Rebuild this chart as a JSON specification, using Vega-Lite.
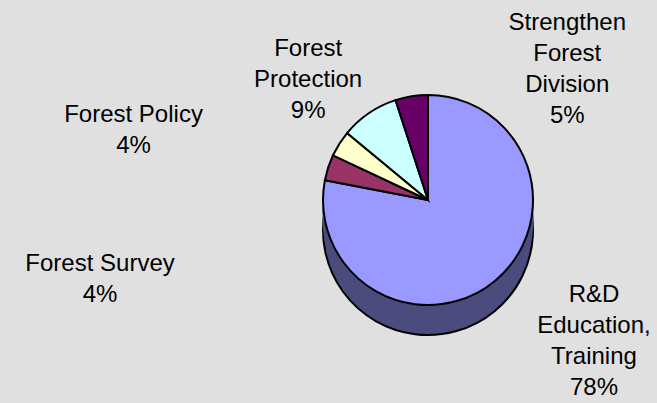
{
  "$schema": "https://vega.github.io/schema/vega-lite/v6.json",
  "width": 456,
  "height": 400,
  "autosize": "none",
  "padding": {"left": 200, "top": 0, "right": 1, "bottom": 3},
  "background": "#E0E0E0",
  "config": {"view": {"stroke": null}},
  "data": {
    "values": [
      {"category": "R&D Education, Training", "label": "R&D\nEducation,\nTraining\n78%", "value": 78, "order": 1},
      {"category": "Forest Survey", "label": "Forest Survey\n4%", "value": 4, "order": 2},
      {"category": "Forest Policy", "label": "Forest Policy\n4%", "value": 4, "order": 3},
      {"category": "Forest Protection", "label": "Forest\nProtection\n9%", "value": 9, "order": 4},
      {"category": "Strengthen Forest Division", "label": "Strengthen\nForest\nDivision\n5%", "value": 5, "order": 5}
    ]
  },
  "encoding": {
    "theta": {"field": "value", "type": "quantitative", "stack": true},
    "order": {"field": "order", "type": "quantitative"}
  },
  "layer": [
    {"mark": {"type": "arc", "radius": 105, "yOffset": 30, "fill": "#4B4B7E", "stroke": "#000000", "strokeWidth": 2}},
    {"mark": {"type": "arc", "radius": 105, "yOffset": 20, "fill": "#4B4B7E", "stroke": "#4B4B7E", "strokeWidth": 1}},
    {"mark": {"type": "arc", "radius": 105, "yOffset": 10, "fill": "#4B4B7E", "stroke": "#4B4B7E", "strokeWidth": 1}},
    {
      "mark": {"type": "arc", "radius": 105, "stroke": "#000000", "strokeWidth": 2},
      "encoding": {
        "color": {
          "field": "category",
          "type": "nominal",
          "scale": {
            "domain": ["R&D Education, Training", "Forest Survey", "Forest Policy", "Forest Protection", "Strengthen Forest Division"],
            "range": ["#9999FF", "#993366", "#FFFFCC", "#CCFFFF", "#660066"]
          },
          "legend": null
        }
      }
    },
    {
      "mark": {"type": "text", "radius": 218, "dx": 27, "dy": -73, "font": "Liberation Sans", "fontSize": 24, "lineBreak": "\n", "lineHeight": 31, "align": "center", "baseline": "middle", "color": "#000000"},
      "encoding": {"text": {"condition": {"test": "datum.order === 1", "field": "label", "type": "nominal"}, "value": ""}}
    },
    {
      "mark": {"type": "text", "radius": 287, "dx": -55, "dy": 153, "font": "Liberation Sans", "fontSize": 24, "lineBreak": "\n", "lineHeight": 31, "align": "center", "baseline": "middle", "color": "#000000"},
      "encoding": {"text": {"condition": {"test": "datum.order === 2", "field": "label", "type": "nominal"}, "value": ""}}
    },
    {
      "mark": {"type": "text", "radius": 286, "dx": -53, "dy": 68, "font": "Liberation Sans", "fontSize": 24, "lineBreak": "\n", "lineHeight": 31, "align": "center", "baseline": "middle", "color": "#000000"},
      "encoding": {"text": {"condition": {"test": "datum.order === 3", "field": "label", "type": "nominal"}, "value": ""}}
    },
    {
      "mark": {"type": "text", "radius": 167, "dx": -26, "dy": -13, "font": "Liberation Sans", "fontSize": 24, "lineBreak": "\n", "lineHeight": 31, "align": "center", "baseline": "middle", "color": "#000000"},
      "encoding": {"text": {"condition": {"test": "datum.order === 4", "field": "label", "type": "nominal"}, "value": ""}}
    },
    {
      "mark": {"type": "text", "radius": 107, "dx": 156, "dy": -71, "font": "Liberation Sans", "fontSize": 24, "lineBreak": "\n", "lineHeight": 31, "align": "center", "baseline": "middle", "color": "#000000"},
      "encoding": {"text": {"condition": {"test": "datum.order === 5", "field": "label", "type": "nominal"}, "value": ""}}
    }
  ]
}
